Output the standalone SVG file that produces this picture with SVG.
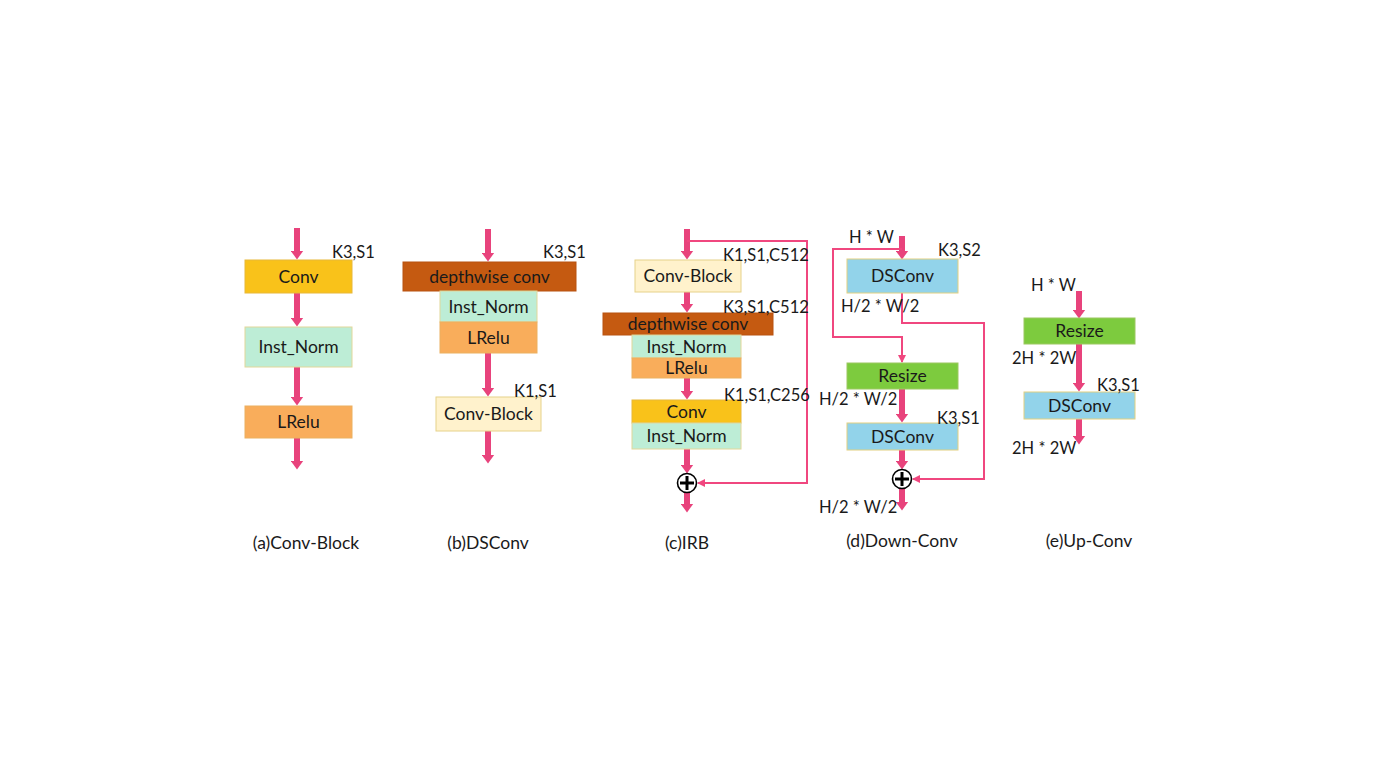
<svg xmlns="http://www.w3.org/2000/svg" width="1387" height="776" viewBox="0 0 1387 776">
<defs>
<marker id="ah" markerUnits="userSpaceOnUse" markerWidth="9" markerHeight="13" viewBox="0 0 9 13" refX="0.5" refY="6.5" orient="auto"><path d="M0,0 L9,6.5 L0,13 z" fill="#E8437C"/></marker>
<marker id="ts" markerUnits="userSpaceOnUse" markerWidth="8" markerHeight="8" viewBox="0 0 8 8" refX="7" refY="4" orient="auto"><path d="M0,0 L8,4 L0,8 z" fill="#F0477F"/></marker>
<style>
.a{stroke:#E8437C;stroke-width:6;fill:none;marker-end:url(#ah)}
.ta{stroke:#F0477F;stroke-width:2;fill:none;marker-end:url(#ts)}
text{font-family:Lato,"Liberation Sans",sans-serif;font-size:16.5px;fill:#1a1a1a}
.c{text-anchor:middle;font-size:17.5px}
.cap{text-anchor:middle;font-size:17.5px}
.conv{fill:#F9C21A;stroke:#E8B838;stroke-width:1}
.in{fill:#BDEDD6;stroke:#E2D79A;stroke-width:1}
.lr{fill:#F9AD5B;stroke:#EBB060;stroke-width:1}
.dw{fill:#C55A11;stroke:#B85210;stroke-width:1}
.cb{fill:#FFF2CC;stroke:#E6D28A;stroke-width:1}
.ds{fill:#92D3EA;stroke:#E2D080;stroke-width:1}
.rs{fill:#7DCB3E;stroke:#9CC860;stroke-width:1}
.pc{fill:#fff;stroke:#000;stroke-width:1.6}
.pl{stroke:#000;stroke-width:3}
</style>
</defs>
<g id="connectors">
<line class="a" x1="297" y1="228" x2="297" y2="251"/>
<line class="a" x1="297" y1="293" x2="297" y2="318"/>
<line class="a" x1="297" y1="367" x2="297" y2="397"/>
<line class="a" x1="297" y1="438" x2="297" y2="461"/>
<line class="a" x1="488" y1="229" x2="488" y2="253"/>
<line class="a" x1="488" y1="353" x2="488" y2="388"/>
<line class="a" x1="488" y1="431" x2="488" y2="455"/>
<line class="a" x1="687" y1="229" x2="687" y2="251"/>
<line class="a" x1="687" y1="292" x2="687" y2="304"/>
<line class="a" x1="687" y1="378" x2="687" y2="391"/>
<line class="a" x1="687" y1="449" x2="687" y2="465"/>
<line class="a" x1="687" y1="493" x2="687" y2="504"/>
<polyline class="ta" points="687,241 807,241 807,483 698,483"/>
<line class="a" x1="902" y1="236" x2="902" y2="251"/>
<line class="a" x1="902" y1="389" x2="902" y2="414"/>
<line class="a" x1="902" y1="450" x2="902" y2="461"/>
<line class="a" x1="902" y1="488" x2="902" y2="502"/>
<polyline class="ta" points="902,249 833,249 833,337 902,337 902,362"/>
<polyline class="ta" points="902,293 902,323 984,323 984,479 913,479"/>
<line class="a" x1="1079" y1="291" x2="1079" y2="310"/>
<line class="a" x1="1079" y1="344" x2="1079" y2="383"/>
<line class="a" x1="1079" y1="419" x2="1079" y2="436"/>
</g>
<g id="node-a-conv"><rect class="conv" x="245" y="260" width="107" height="33"/><text class="c" x="298.5" y="283">Conv</text></g>
<g id="node-a-inst"><rect class="in" x="245" y="327" width="107" height="40"/><text class="c" x="298.5" y="353">Inst_Norm</text></g>
<g id="node-a-lrelu"><rect class="lr" x="245" y="406" width="107" height="32"/><text class="c" x="298.5" y="428">LRelu</text></g>
<g id="node-b-dw"><rect class="dw" x="403" y="262" width="173" height="29"/><text class="c" x="489.5" y="283">depthwise conv</text></g>
<g id="node-b-inst"><rect class="in" x="440" y="291" width="97" height="31"/><text class="c" x="488.5" y="313">Inst_Norm</text></g>
<g id="node-b-lrelu"><rect class="lr" x="440" y="322" width="97" height="31"/><text class="c" x="488.5" y="344">LRelu</text></g>
<g id="node-b-cb"><rect class="cb" x="436" y="397" width="105" height="34"/><text class="c" x="488.5" y="420">Conv-Block</text></g>
<g id="node-c-cb"><rect class="cb" x="635" y="260" width="106" height="32"/><text class="c" x="688" y="282">Conv-Block</text></g>
<g id="node-c-dw"><rect class="dw" x="603" y="313" width="170" height="22"/><text class="c" x="688" y="330">depthwise conv</text></g>
<g id="node-c-inst1"><rect class="in" x="632" y="335" width="109" height="23"/><text class="c" x="686.5" y="353">Inst_Norm</text></g>
<g id="node-c-lrelu"><rect class="lr" x="632" y="358" width="109" height="20"/><text class="c" x="686.5" y="374">LRelu</text></g>
<g id="node-c-conv"><rect class="conv" x="632" y="400" width="109" height="23"/><text class="c" x="686.5" y="418">Conv</text></g>
<g id="node-c-inst2"><rect class="in" x="632" y="423" width="109" height="26"/><text class="c" x="686.5" y="442">Inst_Norm</text></g>
<g id="node-c-add"><circle class="pc" cx="687" cy="483" r="9.5"/><line class="pl" x1="680" y1="483" x2="694" y2="483"/><line class="pl" x1="687" y1="476" x2="687" y2="490"/></g>
<g id="node-d-ds1"><rect class="ds" x="847" y="259" width="111" height="34"/><text class="c" x="902.5" y="282">DSConv</text></g>
<g id="node-d-resize"><rect class="rs" x="847" y="363" width="111" height="26"/><text class="c" x="902.5" y="382">Resize</text></g>
<g id="node-d-ds2"><rect class="ds" x="847" y="423" width="111" height="27"/><text class="c" x="902.5" y="443">DSConv</text></g>
<g id="node-d-add"><circle class="pc" cx="902" cy="479" r="9.5"/><line class="pl" x1="895" y1="479" x2="909" y2="479"/><line class="pl" x1="902" y1="472" x2="902" y2="486"/></g>
<g id="node-e-resize"><rect class="rs" x="1024" y="318" width="111" height="26"/><text class="c" x="1079.5" y="337">Resize</text></g>
<g id="node-e-ds"><rect class="ds" x="1024" y="392" width="111" height="27"/><text class="c" x="1079.5" y="412">DSConv</text></g>
<g id="labels">
<text x="332" y="258">K3,S1</text>
<text x="543" y="258">K3,S1</text>
<text x="514" y="397">K1,S1</text>
<text x="723" y="261">K1,S1,C512</text>
<text x="723" y="313">K3,S1,C512</text>
<text x="724" y="401">K1,S1,C256</text>
<text x="849" y="243">H * W</text>
<text x="938" y="256">K3,S2</text>
<text x="841" y="312">H/2 * W/2</text>
<text x="819" y="405">H/2 * W/2</text>
<text x="937" y="424">K3,S1</text>
<text x="819" y="513">H/2 * W/2</text>
<text x="1031" y="291">H * W</text>
<text x="1012" y="364">2H * 2W</text>
<text x="1097" y="391">K3,S1</text>
<text x="1012" y="454">2H * 2W</text>
<text class="cap" x="306" y="549">(a)Conv-Block</text>
<text class="cap" x="488" y="549">(b)DSConv</text>
<text class="cap" x="687" y="549">(c)IRB</text>
<text class="cap" x="902" y="547">(d)Down-Conv</text>
<text class="cap" x="1089" y="547">(e)Up-Conv</text>
</g>
</svg>
